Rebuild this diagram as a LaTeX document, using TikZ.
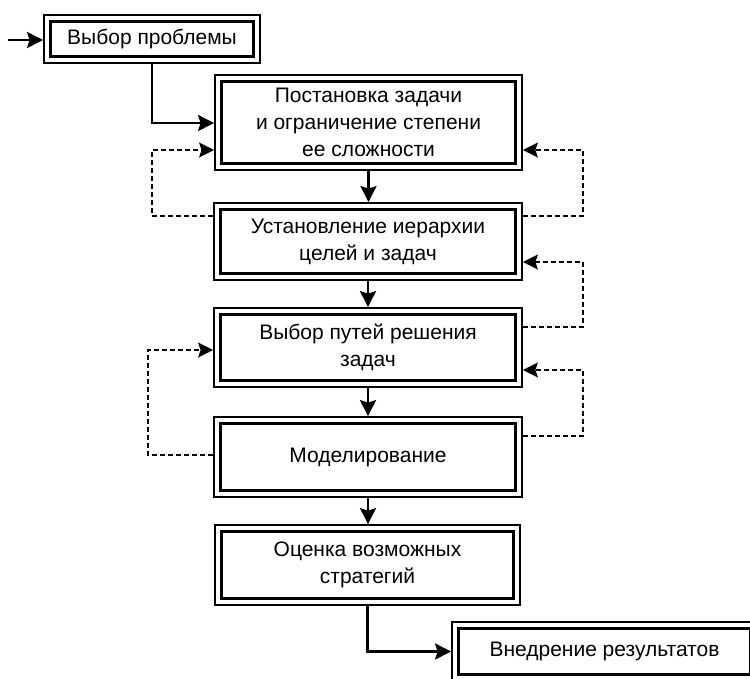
\documentclass[tikz,border=0pt]{standalone}
\usepackage{fontspec}
\setmainfont{Liberation Sans}
\usetikzlibrary{arrows.meta}
\begin{document}
\begin{tikzpicture}[x=1pt,y=-1pt,
  box/.style={rectangle, draw, line width=1.8pt, inner sep=0pt, align=center,
    font=\fontsize{21}{27}\selectfont,
    path picture={\draw[line width=3pt]
      ([shift={(6.5pt,-6.5pt)}]path picture bounding box.north west) rectangle
      ([shift={(-6.5pt,6.5pt)}]path picture bounding box.south east);}},
  arr/.style={line width=2.4pt, -{Stealth[length=16pt,width=16pt,inset=2.5pt]}},
  fb/.style={line width=1.6pt, dash pattern=on 5pt off 3pt,
    -{Stealth[length=15pt,width=15pt,inset=2.5pt]}}
]
\useasboundingbox (0,0) rectangle (750,678);
\clip (0,0) rectangle (750,678);

\node[box, minimum width=216pt, minimum height=48pt] (b1) at (152,39) {Выбор проблемы};
\node[box, minimum width=307pt, minimum height=95pt] (b2) at (368.5,122.5)
  {Постановка задачи\\и ограничение степени\\ее сложности};
\node[box, minimum width=308pt, minimum height=77pt] (b3) at (368,241.5)
  {Установление иерархии\\целей и задач};
\node[box, minimum width=308pt, minimum height=79pt] (b4) at (368,347.5)
  {Выбор путей решения\\задач};
\node[box, minimum width=308pt, minimum height=80pt] (b5) at (368,457)
  {Моделирование};
\node[box, minimum width=305pt, minimum height=80pt] (b6) at (367.5,565)
  {Оценка возможных\\стратегий};
\node[box, minimum width=305pt, minimum height=59pt] (b7) at (604.5,651.5)
  {Внедрение результатов};

\coordinate (in) at (8,40);
\draw[arr] (in) -- (b1.west |- in);
\draw[arr] (b1.south) |- (b2.west |- 0,123);
\draw[arr] (b2.south) -- (b2.south |- b3.north);
\draw[arr] (b3.south) -- (b3.south |- b4.north);
\draw[arr] (b4.south) -- (b4.south |- b5.north);
\draw[arr] (b5.south) -- (b5.south |- b6.north);
\draw[arr] (b6.south) |- (b7.west);

\draw[fb] (b3.west |- 0,216) -| (152,150) -- (b2.west |- 0,150);
\draw[fb] (b3.east |- 0,216) -| (583,150) -- (b2.east |- 0,150);
\draw[fb] (b4.east |- 0,327) -| (583,262) -- (b3.east |- 0,262);
\draw[fb] (b5.west |- 0,455) -| (148,350) -- (b4.west |- 0,350);
\draw[fb] (b5.east |- 0,436) -| (583,370) -- (b4.east |- 0,370);
\end{tikzpicture}
\end{document}
